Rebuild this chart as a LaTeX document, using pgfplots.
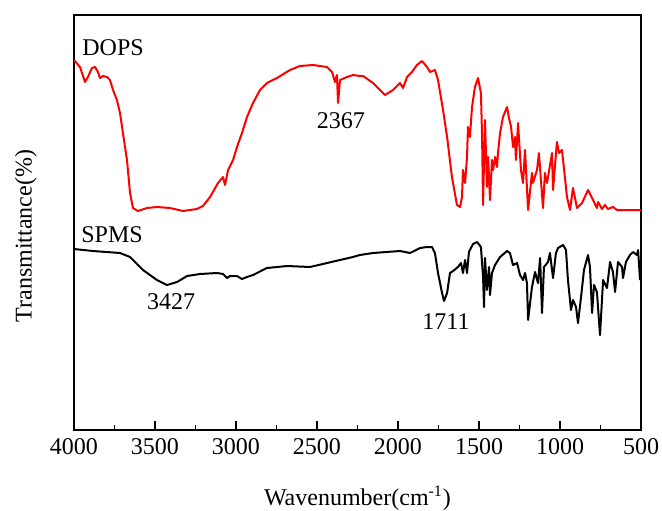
\documentclass[border=0pt]{standalone}
\usepackage{fontspec}
\setmainfont{Liberation Serif}
\usepackage{pgfplots}
\pgfplotsset{compat=1.18}
\begin{document}
\fontsize{12}{14}\selectfont
\begin{tikzpicture}
\useasboundingbox (-37pt,-40pt) rectangle (294pt,215pt);
\begin{axis}[
  at={(0,0)}, anchor=south west,
  scale only axis, width=283.5pt, height=207.5pt,
  x dir=reverse, xmin=500, xmax=4000, ymin=70, ymax=485,
  xtick={500,1000,...,4000}, minor x tick num=1, xtick pos=bottom, ytick=\empty,
  major tick length=4.5pt, minor tick length=2.5pt, tick align=inside,
  axis line style={line width=1pt}, every tick/.style={line width=0.8pt, black},
  /pgf/number format/assume math mode=true, /pgf/number format/1000 sep={},
  tick label style={font=\fontsize{12}{14}\selectfont},
  xlabel={Wavenumber(cm\textsuperscript{-1})},
  ylabel={Transmittance(\%)},
  xlabel style={at={(axis description cs:0.5,-0.165)}, anchor=center, font=\fontsize{12}{14}\selectfont},
  ylabel style={at={(axis description cs:-0.085,0.467)}, anchor=center, rotate=0, font=\fontsize{12}{14}\selectfont},
  clip=false,
]
\addplot[red, line width=1pt, line join=round] coordinates {
(4000,440) (3963,433) (3932,418) (3914,423) (3889,432) (3870,433) (3852,428) (3840,422)
(3821,424) (3796,423) (3778,420) (3759,410) (3735,400) (3716,387) (3698,367) (3673,340)
(3654,307) (3636,292) (3605,289) (3549,292) (3488,293) (3407,292) (3327,289) (3241,291)
(3204,294) (3160,303) (3111,317) (3080,323) (3068,315) (3049,330) (3018,340) (2994,353)
(2963,367) (2932,383) (2895,397) (2852,410) (2809,417) (2747,422) (2667,430) (2605,434)
(2525,435) (2438,433) (2407,428) (2389,418) (2377,425) (2370,397) (2358,420) (2315,423)
(2278,425) (2235,424) (2216,424) (2154,417) (2080,405) (2031,410) (1988,417) (1969,412)
(1944,423) (1914,428) (1883,435) (1852,439) (1821,433) (1802,428) (1772,430) (1753,420)
(1722,390) (1697,363) (1667,323) (1636,295) (1617,293) (1605,303) (1599,330) (1586,317)
(1574,343) (1568,373) (1556,363) (1543,393) (1525,413) (1506,422) (1488,407) (1481,363)
(1475,295) (1463,380) (1451,313) (1444,343) (1432,300) (1420,340) (1413,330) (1401,343)
(1389,333) (1383,347) (1370,367) (1352,383) (1327,393) (1315,382) (1302,373) (1290,353)
(1278,363) (1272,340) (1259,377) (1241,330) (1228,317) (1216,350) (1197,290) (1173,327)
(1167,317) (1142,330) (1130,347) (1105,292) (1093,327) (1080,317) (1049,347) (1043,310)
(1019,358) (1006,347) (988,350) (981,340) (957,303) (938,290) (920,312) (895,292)
(864,297) (827,310) (796,300) (772,292) (765,298) (741,291) (722,295) (704,291)
(673,293) (648,290) (500,290)
};
\addplot[black, line width=1pt, line join=round] coordinates {
(4000,251) (3883,249) (3716,247) (3654,243) (3574,230) (3488,220) (3426,215) (3364,218)
(3302,224) (3222,226) (3117,227) (3080,226) (3056,222) (3037,224) (2994,224) (2963,221)
(2932,223) (2895,225) (2809,232) (2685,234) (2543,233) (2438,237) (2358,240) (2278,243)
(2235,245) (2154,247) (1988,249) (1926,247) (1864,252) (1821,253) (1790,253) (1772,247)
(1753,227) (1728,207) (1716,199) (1697,207) (1679,227) (1660,229) (1630,233) (1611,237)
(1599,227) (1586,240) (1574,227) (1562,248) (1537,256) (1512,258) (1488,253) (1475,223)
(1469,193) (1463,242) (1451,210) (1438,233) (1432,205) (1420,227) (1401,235) (1370,243)
(1327,249) (1309,247) (1290,235) (1265,237) (1247,225) (1228,220) (1216,227) (1204,217)
(1197,180) (1173,213) (1154,228) (1136,217) (1123,242) (1111,187) (1099,233) (1074,238)
(1062,247) (1043,222) (1025,247) (1012,252) (981,255) (963,250) (951,220) (932,190)
(920,200) (901,193) (889,177) (870,203) (852,230) (827,245) (815,233) (802,187)
(790,215) (772,208) (753,165) (734,220) (710,212) (691,238) (673,228) (660,208)
(642,238) (617,233) (611,222) (593,238) (568,245) (549,248) (525,245) (518,250)
(506,220)
};
\node[anchor=center] at (axis cs:3759,452) {DOPS};
\node[anchor=center] at (axis cs:2352,379) {2367};
\node[anchor=center] at (axis cs:3765,265) {SPMS};
\node[anchor=center] at (axis cs:3401,198) {3427};
\node[anchor=center] at (axis cs:1704,178) {1711};
\end{axis}
\end{tikzpicture}
\end{document}
